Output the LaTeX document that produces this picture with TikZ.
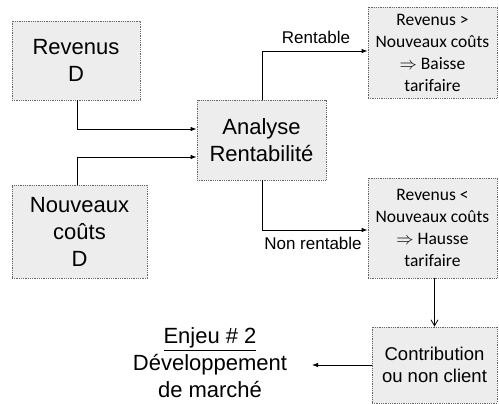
\documentclass[tikz,border=0pt]{standalone}
\usepackage{fontspec}
\setmainfont{Liberation Sans}
\newfontfamily\calib{Carlito}
\usetikzlibrary{arrows.meta}
\tikzstyle{none}=[inner sep=0pt]
\tikzstyle{box}=[draw=black!60, densely dotted, line width=0.8pt, fill=black!7, inner sep=0pt, align=center]
\tikzstyle{simple}=[-{Latex[length=6pt,width=4.5pt]}, draw=black, line width=0.8pt]
\tikzstyle{openarrow}=[-{Straight Barb[length=6pt,width=7pt]}, draw=black, line width=0.8pt]
\tikzstyle{big}=[font=\fontsize{22}{27}\selectfont, align=center]
\tikzstyle{small}=[font=\calib\fontsize{17.5}{22}\selectfont]
\tikzstyle{arrowtext}=[font=\fontsize{17}{20}\selectfont]
\tikzstyle{clienttext}=[font=\fontsize{18.5}{22}\selectfont]

\begin{document}
\begin{tikzpicture}[x=1pt, y=-1pt]
  \useasboundingbox (0,0) rectangle (499,404);
  \node [style=box, style=big, minimum width=128, minimum height=79] (0) at (76, 60.5) {Revenus\\D};
  \node [style=box, style=big, minimum width=135, minimum height=93] (1) at (79.5, 231.5) {Nouveaux\\coûts\\D};
  \node [style=box, style=big, minimum width=129, minimum height=80] (2) at (261.5, 140) {Analyse\\Rentabilité};
  \node [style=box, style=small, minimum width=129, minimum height=91] (3) at (432.5, 52.5) {Revenus >\\Nouveaux coûts\\$\Rightarrow$ Baisse\\tarifaire};
  \node [style=box, style=small, minimum width=129, minimum height=100] (4) at (432.5, 228) {Revenus <\\Nouveaux coûts\\$\Rightarrow$ Hausse\\tarifaire};
  \node [style=box, style=clienttext, minimum width=125, minimum height=76] (5) at (434.5, 365) {Contribution\\ou non client};
  \node [style=none, style=big] (6) at (210, 363) {\underline{Enjeu \# 2}\\Développement\\de marché};
  \node [style=none, style=arrowtext] (7) at (316, 37) {Rentable};
  \node [style=none, style=arrowtext] (8) at (313, 243) {Non rentable};
  \node [style=none] (9) at (77, 129) {};
  \node [style=none] (10) at (77, 157) {};
  \node [style=none] (11) at (262, 51) {};
  \node [style=none] (12) at (262, 230) {};
  \node [style=none] (13) at (312, 365) {};
  \draw [style=simple] (0.south -| 9) to (9.center) to (2.west |- 9);
  \draw [style=simple] (1.north -| 10) to (10.center) to (2.west |- 10);
  \draw [style=simple] (2.north -| 11) to (11.center) to (3.west |- 11);
  \draw [style=simple] (2.south -| 12) to (12.center) to (4.west |- 12);
  \draw [style=openarrow] (4.south -| 5.north) to (5.north);
  \draw [style=simple] (5.west) to (13.center);
\end{tikzpicture}
\end{document}
